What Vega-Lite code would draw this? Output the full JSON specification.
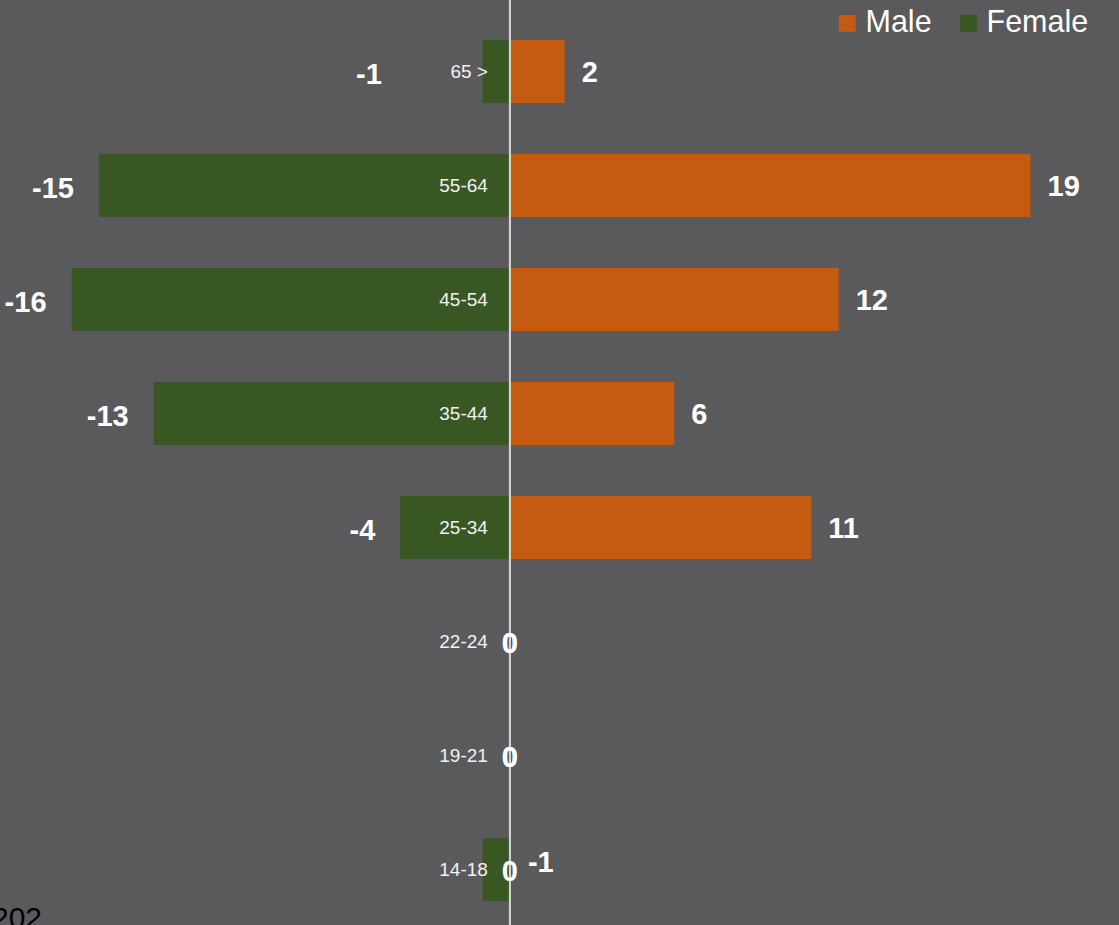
{
  "$schema": "https://vega.github.io/schema/vega-lite/v6.json",
  "width": 1119,
  "height": 925,
  "autosize": "none",
  "padding": 0,
  "background": "#5a5a5c",
  "config": {"view": {"stroke": null}, "font": "Liberation Sans"},
  "title": {"text": "202", "orient": "bottom", "anchor": "start", "frame": "group", "offset": -22, "baseline": "top", "fontSize": 30, "fontWeight": "normal", "color": "#000000", "dx": -8, "font": "Liberation Sans"},
  "data": {"values": [
    {"age": "65 >", "sex": "Male", "value": 2},
    {"age": "65 >", "sex": "Female", "value": -1},
    {"age": "55-64", "sex": "Male", "value": 19},
    {"age": "55-64", "sex": "Female", "value": -15},
    {"age": "45-54", "sex": "Male", "value": 12},
    {"age": "45-54", "sex": "Female", "value": -16},
    {"age": "35-44", "sex": "Male", "value": 6},
    {"age": "35-44", "sex": "Female", "value": -13},
    {"age": "25-34", "sex": "Male", "value": 11},
    {"age": "25-34", "sex": "Female", "value": -4},
    {"age": "22-24", "sex": "Male", "value": 0},
    {"age": "22-24", "sex": "Female", "value": 0},
    {"age": "19-21", "sex": "Male", "value": 0},
    {"age": "19-21", "sex": "Female", "value": 0},
    {"age": "14-18", "sex": "Male", "value": 0},
    {"age": "14-18", "sex": "Female", "value": -1}
  ]},
  "layer": [
    {
      "mark": {"type": "bar"},
      "encoding": {
        "y": {"field": "age", "type": "nominal", "sort": ["65 >", "55-64", "45-54", "35-44", "25-34", "22-24", "19-21", "14-18"], "scale": {"range": [14.5, 926.5], "paddingInner": 0.447, "paddingOuter": 0.2235}, "axis": null},
        "x": {"field": "value", "type": "quantitative", "scale": {"domain": [-18.61, 22.23], "nice": false, "zero": false}, "axis": null},
        "color": {"field": "sex", "type": "nominal", "scale": {"domain": ["Male", "Female"], "range": ["#c55a11", "#385723"]},
          "legend": {"title": null, "orient": "none", "legendX": 832, "legendY": 8, "direction": "horizontal", "padding": 0, "symbolType": "square", "symbolSize": 289, "symbolStrokeWidth": 0, "labelFontSize": 30.5, "labelColor": "#ffffff", "labelOffset": 3, "columnPadding": 21, "labelFont": "Liberation Sans"}}
      }
    },
    {
      "data": {"values": [{}]},
      "mark": {"type": "rule", "color": "#d9d9d9", "strokeWidth": 2},
      "encoding": {"x": {"datum": 0, "type": "quantitative"}}
    },
    {
      "transform": [{"filter": "datum.sex == 'Male'"}],
      "mark": {"type": "text", "align": "right", "baseline": "middle", "dx": -22, "fontSize": 19, "color": "#f2f2f2", "font": "Liberation Sans"},
      "encoding": {
        "y": {"field": "age", "type": "nominal", "sort": ["65 >", "55-64", "45-54", "35-44", "25-34", "22-24", "19-21", "14-18"]},
        "x": {"datum": 0, "type": "quantitative"},
        "text": {"field": "age"}
      }
    },
    {
      "transform": [{"filter": "datum.value > 0"}],
      "mark": {"type": "text", "align": "left", "baseline": "middle", "dx": 17, "dy": 1, "fontSize": 29, "fontWeight": "bold", "color": "#ffffff", "font": "Liberation Sans"},
      "encoding": {
        "y": {"field": "age", "type": "nominal", "sort": ["65 >", "55-64", "45-54", "35-44", "25-34", "22-24", "19-21", "14-18"]},
        "x": {"field": "value", "type": "quantitative"},
        "text": {"field": "value"}
      }
    },
    {
      "transform": [{"filter": "datum.value <= -2"}],
      "mark": {"type": "text", "align": "right", "baseline": "middle", "dx": -25, "dy": 3, "fontSize": 29, "fontWeight": "bold", "color": "#ffffff", "font": "Liberation Sans"},
      "encoding": {
        "y": {"field": "age", "type": "nominal", "sort": ["65 >", "55-64", "45-54", "35-44", "25-34", "22-24", "19-21", "14-18"]},
        "x": {"field": "value", "type": "quantitative"},
        "text": {"field": "value"}
      }
    },
    {
      "transform": [{"filter": "datum.value == -1 && datum.age != '14-18'"}],
      "mark": {"type": "text", "align": "right", "baseline": "middle", "dx": -128, "dy": 3, "fontSize": 29, "fontWeight": "bold", "color": "#ffffff", "font": "Liberation Sans"},
      "encoding": {
        "y": {"field": "age", "type": "nominal", "sort": ["65 >", "55-64", "45-54", "35-44", "25-34", "22-24", "19-21", "14-18"]},
        "x": {"datum": 0, "type": "quantitative"},
        "text": {"field": "value"}
      }
    },
    {
      "transform": [{"filter": "datum.value == -1 && datum.age == '14-18'"}],
      "mark": {"type": "text", "align": "left", "baseline": "middle", "dx": 18, "dy": -7, "fontSize": 29, "fontWeight": "bold", "color": "#ffffff", "font": "Liberation Sans"},
      "encoding": {
        "y": {"field": "age", "type": "nominal", "sort": ["65 >", "55-64", "45-54", "35-44", "25-34", "22-24", "19-21", "14-18"]},
        "x": {"datum": 0, "type": "quantitative"},
        "text": {"field": "value"}
      }
    },
    {
      "transform": [{"filter": "datum.value == 0"}],
      "mark": {"type": "text", "align": "center", "baseline": "middle", "dy": 2, "fontSize": 29, "fontWeight": "bold", "color": "#ffffff", "font": "Liberation Sans"},
      "encoding": {
        "y": {"field": "age", "type": "nominal", "sort": ["65 >", "55-64", "45-54", "35-44", "25-34", "22-24", "19-21", "14-18"]},
        "x": {"datum": 0, "type": "quantitative"},
        "text": {"field": "value"}
      }
    }
  ]
}
